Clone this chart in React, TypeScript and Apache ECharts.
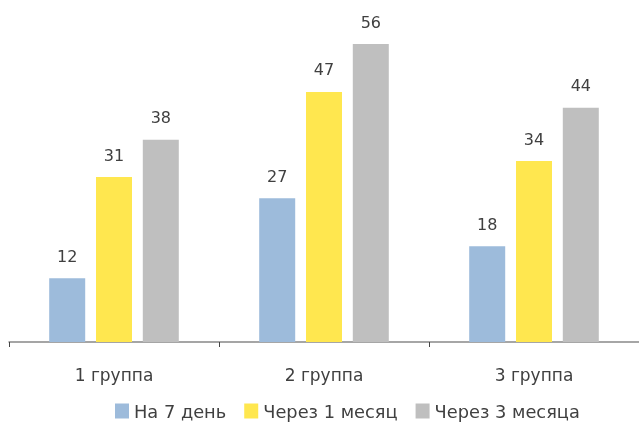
import React, { useEffect, useRef } from "react";
import * as echarts from "echarts";

const categories = ["1 группа", "2 группа", "3 группа"];
const seriesNames = ["На 7 день", "Через 1 месяц", "Через 3 месяца"];
const day7 = [12, 27, 18];
const month1 = [31, 47, 34];
const month3 = [38, 56, 44];
const colors = ["#9DBBDB", "#FFE74F", "#BFBFBF"];

export default function App() {
  const ref = useRef<HTMLDivElement>(null);
  useEffect(() => {
    const chart = echarts.init(ref.current!, null, { renderer: "svg" });
    const font = "'DejaVu Sans', sans-serif";
    const data = [day7, month1, month3];
    chart.setOption({
      animation: false,
      textStyle: { fontFamily: font },
      grid: { left: 9, right: -3, top: 44, bottom: 81 },
      legend: {
        top: 402,
        left: 115,
        itemWidth: 14,
        itemHeight: 15,
        itemGap: 18,
        padding: 0,
        icon: "rect",
        textStyle: { fontSize: 17.8, color: "#404040", fontFamily: font },
        data: seriesNames,
      },
      xAxis: {
        type: "category",
        data: categories,
        axisLine: { lineStyle: { color: "#888", width: 1.5 } },
        axisTick: { show: true, interval: 0, length: 5, lineStyle: { color: "#444", width: 1 } },
        axisLabel: { margin: 24, fontSize: 17, color: "#404040", fontFamily: font },
      },
      yAxis: {
        type: "value",
        min: 0,
        max: 56,
        show: false,
        splitLine: { show: false },
      },
      series: seriesNames.map((name, i) => ({
        name,
        type: "bar",
        data: data[i],
        barWidth: 36,
        barGap: "30%",
        itemStyle: { color: colors[i] },
        label: {
          show: true,
          position: "top",
          distance: 14,
          fontSize: 16,
          color: "#404040",
          fontFamily: font,
        },
      })),
    });
    return () => chart.dispose();
  }, []);
  return (
    <div
      ref={ref}
      style={{ position: "fixed", left: 0, top: 0, width: 639, height: 423 }}
    />
  );
}
